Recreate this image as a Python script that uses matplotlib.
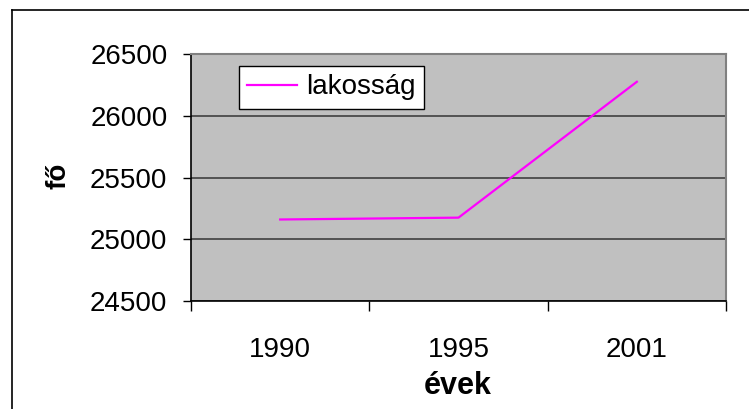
import matplotlib
matplotlib.use("Agg")
from matplotlib import pyplot as plt
from matplotlib.lines import Line2D

years = ["1990", "1995", "2001"]
population = [25160, 25175, 26275]
y_ticks = [24500, 25000, 25500, 26000, 26500]

plt.rcParams['font.family'] = ['Liberation Sans', 'DejaVu Sans']

fig = plt.figure(figsize=(7.49, 4.09), dpi=100)
ax = fig.add_axes([191 / 749, 1 - 301 / 409, 535 / 749, 247 / 409])
ax.set_facecolor('#c0c0c0')

x = list(range(len(years)))
ax.plot(x, population, color='#ff00ff', lw=1.6, label='lakosság')

ax.set_xlim(-0.5, len(years) - 0.5)
ax.set_ylim(y_ticks[0], y_ticks[-1])

ax.set_yticks(y_ticks)
ax.set_yticklabels([str(v) for v in y_ticks])
ax.yaxis.grid(True, color='#404040', lw=1.2)
ax.set_axisbelow(True)

ax.set_xticks(x)
ax.set_xticklabels(years)
ax.set_xticks([i - 0.5 for i in range(len(years) + 1)], minor=True)
ax.tick_params(axis='x', which='major', length=0, pad=26, labelsize=20)
ax.tick_params(axis='x', which='minor', length=7, width=1, direction='out')
ax.tick_params(axis='y', length=6, width=1, pad=11, labelsize=20)

for side in ['left', 'bottom']:
    ax.spines[side].set_color('black')
    ax.spines[side].set_linewidth(1.2)
for side in ['top', 'right']:
    ax.spines[side].set_color('#808080')
    ax.spines[side].set_linewidth(1.5)

leg = ax.legend(loc='upper left', bbox_to_anchor=(239 / 749, 1 - 66 / 409),
                bbox_transform=fig.transFigure, fontsize=20, frameon=True,
                fancybox=False, handlelength=1.8, borderpad=0.3,
                handletextpad=0.3, borderaxespad=0)
leg.get_frame().set_edgecolor('black')
leg.get_frame().set_facecolor('white')
leg.get_frame().set_alpha(1)
leg.get_frame().set_linewidth(1)

fig.text(59 / 749, 1 - 176 / 409, 'fő', rotation=90, fontsize=20,
         fontweight='bold', ha='center', va='center')
fig.text(458 / 749, 1 - 386 / 409, 'évek', fontsize=22,
         fontweight='bold', ha='center', va='center')

# outer chart border (left and top edges visible)
fig.add_artist(Line2D([12 / 749, 12 / 749], [0, 1 - 10 / 409], color='black', lw=1.2))
fig.add_artist(Line2D([12 / 749, 1], [1 - 10 / 409, 1 - 10 / 409], color='black', lw=1.2))

fig.savefig('out.png', dpi=100)
